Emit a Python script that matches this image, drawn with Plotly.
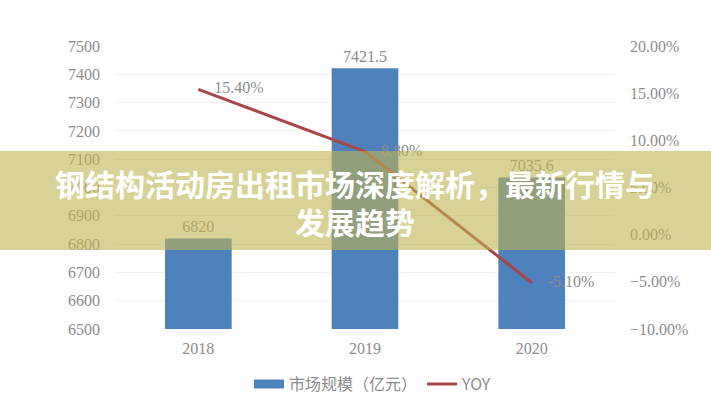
import plotly.graph_objects as go

years = ["2018", "2019", "2020"]
market_size = [6820, 7421.5, 7035.6]
yoy = [0.154, 0.088, -0.051]
bar_labels = ["6820", "7421.5", "7035.6"]
title_line1 = "钢结构活动房出租市场深度解析，最新行情与"
title_line2 = "发展趋势"
legend_names = ["市场规模（亿元）", "YOY"]

GRAY = "#8c8c8c"
BLUE = "#4F81BD"
RED = "#A9464A"
NUM_FONT = "Liberation Serif"

fig = go.Figure()
fig.add_trace(go.Bar(
    x=years, y=market_size, marker_color=BLUE, showlegend=False,
    text=bar_labels, textposition="outside", cliponaxis=False,
    textfont=dict(color=GRAY, size=16, family=NUM_FONT),
))
# legend proxy for bars
fig.add_trace(go.Scatter(
    x=[None], y=[None], mode="lines", name=legend_names[0],
    line=dict(color=BLUE, width=9),
))
fig.add_trace(go.Scatter(
    x=years, y=yoy, yaxis="y2", mode="lines+markers+text", name=legend_names[1],
    line=dict(color=RED, width=3),
    marker=dict(size=24, color="rgba(0,0,0,0)"),
    texttemplate="%{y:.2%}", textposition="middle right",
    textfont=dict(color=GRAY, size=16, family=NUM_FONT), cliponaxis=False,
))

fig.update_layout(
    template="none",
    width=711, height=400,
    margin=dict(l=115, r=96, t=46, b=71, autoexpand=False),
    paper_bgcolor="white", plot_bgcolor="white",
    bargap=0.6,
    showlegend=True,
    legend=dict(orientation="h", x=0.516, xanchor="center", y=-0.195, yanchor="middle",
                font=dict(color=GRAY, size=16, family="Noto Sans CJK SC"),
                bgcolor="rgba(0,0,0,0)"),
    xaxis=dict(type="category", showgrid=False, showline=False, zeroline=False,
               automargin=False, ticks="",
               tickfont=dict(color=GRAY, size=16, family=NUM_FONT),
               ticklabelstandoff=8),
    yaxis=dict(range=[6500, 7500], dtick=100, showgrid=True, gridcolor="#f0f0f0",
               zeroline=False, showline=False, automargin=False, ticks="",
               tickfont=dict(color=GRAY, size=16, family=NUM_FONT),
               ticklabelstandoff=14),
    yaxis2=dict(range=[-0.10, 0.20], dtick=0.05, tickformat=".2%", overlaying="y",
                side="right", showgrid=False, zeroline=False, showline=False,
                automargin=False, ticks="",
                tickfont=dict(color=GRAY, size=16, family=NUM_FONT),
                ticklabelstandoff=14),
    font=dict(family="Noto Sans CJK SC"),
)

# overlay band
fig.add_shape(type="rect", xref="paper", yref="paper",
              x0=-0.3, x1=1.3, y0=(329 - 250) / 283, y1=(329 - 151) / 283,
              fillcolor="rgba(192,180,82,0.6)", line_width=0, layer="above")

fig.add_annotation(text="<b>" + title_line1 + "</b>", xref="paper", yref="paper",
                   x=(355 - 115) / 500, y=(329 - 183) / 283, showarrow=False,
                   xanchor="center", yanchor="middle",
                   font=dict(color="white", size=30, family="Noto Sans CJK SC"))
fig.add_annotation(text="<b>" + title_line2 + "</b>", xref="paper", yref="paper",
                   x=(355 - 115) / 500, y=(329 - 221) / 283, showarrow=False,
                   xanchor="center", yanchor="middle",
                   font=dict(color="white", size=30, family="Noto Sans CJK SC"))

fig.write_html("out.html", config={"displayModeBar": False},
               post_script="document.body.style.margin='0';")
